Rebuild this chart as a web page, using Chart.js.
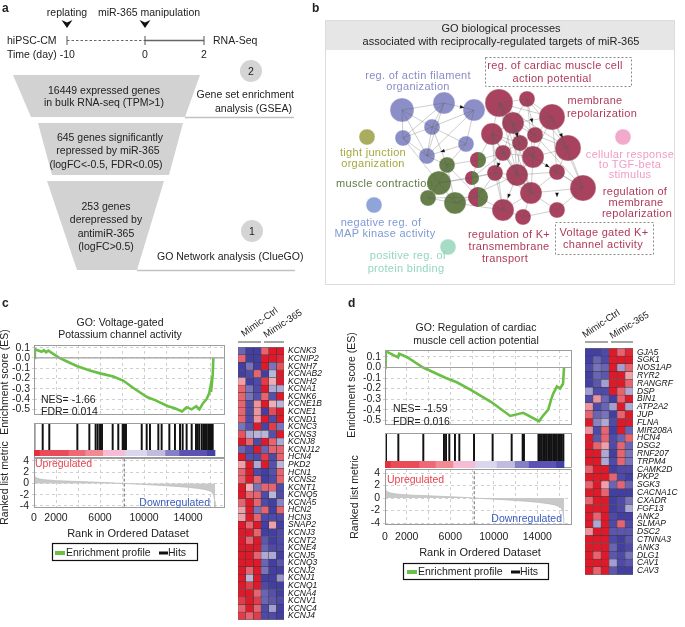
<!DOCTYPE html>
<html>
<head>
<meta charset="utf-8">
<script src="https://cdn.jsdelivr.net/npm/chart.js@4.4.1/dist/chart.umd.min.js"></script>
<style>
html, body { margin: 0; padding: 0; background: #fff; }
#fig { position: relative; width: 685px; height: 627px; overflow: hidden; }
#fig canvas { position: absolute; }
#ov { position: absolute; left: 0; top: 0; z-index: 5; }
</style>
</head>
<body>
<div id="fig">
<svg id="ov" width="685" height="627" xmlns="http://www.w3.org/2000/svg">
<g font-family="Liberation Sans, Arial, sans-serif" font-size="10.5" fill="#222">
  <!-- a -->
  <text x="2" y="12" font-weight="bold" font-size="12">a</text>
  <text x="67" y="16" text-anchor="middle">replating</text>
  <text x="149" y="16" text-anchor="middle">miR-365 manipulation</text>
  <path d="M61.5 20 L67 22.5 L72.5 20 L67 28 Z" fill="#111"/>
  <path d="M139.5 20 L145 22.5 L150.5 20 L145 28 Z" fill="#111"/>
  <text x="7" y="44">hiPSC-CM</text>
  <line x1="67" y1="36" x2="67" y2="45" stroke="#555"/>
  <line x1="67" y1="40.5" x2="145" y2="40.5" stroke="#666" stroke-dasharray="2.5,2"/>
  <line x1="145" y1="40.5" x2="204" y2="40.5" stroke="#666" stroke-width="1.3"/>
  <line x1="145" y1="36" x2="145" y2="45" stroke="#555"/>
  <line x1="204" y1="36" x2="204" y2="45" stroke="#555"/>
  <text x="213" y="44">RNA-Seq</text>
  <text x="7" y="58">Time (day) -10</text>
  <text x="145" y="58" text-anchor="middle">0</text>
  <text x="204" y="58" text-anchor="middle">2</text>
  <circle cx="251" cy="71" r="11" fill="#d4d4d4"/>
  <text x="251" y="75" text-anchor="middle">2</text>
  <path d="M13 75 L200 75 L185 117 L31 117 Z" fill="#d2d2d2"/>
  <line x1="185" y1="117.5" x2="294" y2="117.5" stroke="#c2c2c2" stroke-width="1.5"/>
  <text x="104" y="94" text-anchor="middle">16449 expressed genes</text>
  <text x="104" y="106" text-anchor="middle">in bulk RNA-seq (TPM&gt;1)</text>
  <text x="294" y="98" text-anchor="end">Gene set enrichment</text>
  <text x="292" y="112" text-anchor="end">analysis (GSEA)</text>
  <path d="M38 123 L183 123 L169 175 L52 175 Z" fill="#d2d2d2"/>
  <text x="110" y="141" text-anchor="middle">645 genes significantly</text>
  <text x="108" y="154" text-anchor="middle">repressed by miR-365</text>
  <text x="106" y="168" text-anchor="middle">(logFC&lt;-0.5, FDR&lt;0.05)</text>
  <path d="M47 181 L164 181 L137 270 L77 270 Z" fill="#d2d2d2"/>
  <text x="106" y="210" text-anchor="middle">253 genes</text>
  <text x="106" y="223" text-anchor="middle">derepressed by</text>
  <text x="106" y="237" text-anchor="middle">antimiR-365</text>
  <text x="106" y="250" text-anchor="middle">(logFC&gt;0.5)</text>
  <circle cx="252" cy="231" r="11" fill="#d4d4d4"/>
  <text x="252" y="235" text-anchor="middle">1</text>
  <text x="157" y="260">GO Network analysis (ClueGO)</text>
  <line x1="137" y1="270.5" x2="295" y2="270.5" stroke="#c2c2c2" stroke-width="1.5"/>

  <!-- b -->
  <text x="312" y="12" font-weight="bold" font-size="12">b</text>
  <rect x="325.5" y="20.5" width="349" height="264" fill="none" stroke="#dcdcdc"/>
  <rect x="326" y="21" width="348" height="29" fill="#e6e6e6"/>
  <text x="501" y="32" text-anchor="middle" font-size="11">GO biological processes</text>
  <text x="501" y="45" text-anchor="middle" font-size="11">associated with reciprocally-regulated targets of miR-365</text>
  <g font-size="11" letter-spacing="0.3">
    <text x="418" y="79" text-anchor="middle" fill="#8a8cc6">reg. of actin  filament</text>
    <text x="418" y="90" text-anchor="middle" fill="#8a8cc6">organization</text>
    <rect x="485.5" y="57.5" width="146" height="29" fill="none" stroke="#888" stroke-dasharray="2,2"/>
    <text x="555" y="69" text-anchor="middle" fill="#b03a5a">reg. of cardiac muscle cell</text>
    <text x="552" y="82" text-anchor="middle" fill="#b03a5a">action potential</text>
    <text x="595" y="104" text-anchor="middle" fill="#b03a5a">membrane</text>
    <text x="602" y="117" text-anchor="middle" fill="#b03a5a">repolarization</text>
    <text x="373" y="156" text-anchor="middle" fill="#a6a840">tight junction</text>
    <text x="373" y="167" text-anchor="middle" fill="#a6a840">organization</text>
    <text x="630" y="158" text-anchor="middle" fill="#f09cc4">cellular response</text>
    <text x="630" y="168" text-anchor="middle" fill="#f09cc4">to TGF-beta</text>
    <text x="630" y="178" text-anchor="middle" fill="#f09cc4">stimulus</text>
    <text x="336" y="187" fill="#5d7b43">muscle contraction</text>
    <text x="635" y="195" text-anchor="middle" fill="#b03a5a">regulation of</text>
    <text x="636" y="206" text-anchor="middle" fill="#b03a5a">membrane</text>
    <text x="637" y="217" text-anchor="middle" fill="#b03a5a">repolarization</text>
    <text x="381" y="226" text-anchor="middle" fill="#7f99d6">negative reg. of</text>
    <text x="385" y="237" text-anchor="middle" fill="#7f99d6">MAP kinase activity</text>
    <text x="509" y="238" text-anchor="middle" fill="#b03a5a">regulation of K+</text>
    <text x="509" y="250" text-anchor="middle" fill="#b03a5a">transmembrane</text>
    <text x="505" y="262" text-anchor="middle" fill="#b03a5a">transport</text>
    <rect x="555.5" y="222.5" width="98" height="32" fill="none" stroke="#888" stroke-dasharray="2,2"/>
    <text x="604" y="236" text-anchor="middle" fill="#b03a5a">Voltage gated K+</text>
    <text x="603" y="248" text-anchor="middle" fill="#b03a5a">channel activity</text>
    <text x="408" y="259" text-anchor="middle" fill="#94d6c0">positive reg. of</text>
    <text x="406" y="272" text-anchor="middle" fill="#94d6c0">protein binding</text>
  </g>

  <!-- c -->
  <text x="2" y="307" font-weight="bold" font-size="12">c</text>
  <text x="120" y="326" text-anchor="middle">GO: Voltage-gated</text>
  <text x="120" y="338" text-anchor="middle">Potassium channel activity</text>
  <text transform="translate(8,382) rotate(-90)" text-anchor="middle">Enrichment score (ES)</text>
  <text transform="translate(8,483) rotate(-90)" text-anchor="middle">Ranked list metric</text>
  <text x="41" y="403">NES= -1.66</text>
  <text x="41" y="415">FDR= 0.014</text>
  <text x="35" y="467" fill="#e8424f">Upregulated</text>
  <text x="210" y="506" text-anchor="end" fill="#3a5bbf">Downregulated</text>
  <text x="128" y="537" text-anchor="middle" font-size="11">Rank in Ordered Dataset</text>
  <rect x="52.5" y="543.5" width="145" height="17" fill="#fff" stroke="#111" stroke-width="1.2"/>
  <rect x="55" y="551" width="10" height="4" fill="#6abf45"/>
  <text x="66" y="556">Enrichment profile</text>
  <rect x="159" y="551.5" width="9" height="3" fill="#111"/>
  <text x="168" y="556">Hits</text>
  <g font-size="9.5">
    <text transform="translate(244,337) rotate(-36)">Mimic-Ctrl</text>
    <text transform="translate(266,338) rotate(-33)">Mimic-365</text>
  </g>
  <line x1="238" y1="342" x2="261" y2="342" stroke="#888" stroke-width="1.5"/>
  <line x1="264" y1="342" x2="284" y2="342" stroke="#888" stroke-width="1.5"/>

  <!-- d -->
  <text x="348" y="307" font-weight="bold" font-size="12">d</text>
  <text x="476" y="331" text-anchor="middle">GO: Regulation of cardiac</text>
  <text x="476" y="344" text-anchor="middle">muscle cell action potential</text>
  <text transform="translate(355,385) rotate(-90)" text-anchor="middle">Enrichment score (ES)</text>
  <text transform="translate(358,497) rotate(-90)" text-anchor="middle">Ranked list metric</text>
  <text x="393" y="412">NES= -1.59</text>
  <text x="393" y="425">FDR= 0.016</text>
  <text x="387" y="483" fill="#e8424f">Upregulated</text>
  <text x="562" y="522" text-anchor="end" fill="#3a5bbf">Downregulated</text>
  <text x="480" y="556" text-anchor="middle" font-size="11">Rank in Ordered Dataset</text>
  <rect x="403.5" y="563.5" width="145" height="16" fill="#fff" stroke="#111" stroke-width="1.2"/>
  <rect x="407" y="570" width="10" height="4" fill="#6abf45"/>
  <text x="418" y="575">Enrichment profile</text>
  <rect x="511" y="570.5" width="9" height="3" fill="#111"/>
  <text x="520" y="575">Hits</text>
  <g font-size="9.5">
    <text transform="translate(585,338) rotate(-34)">Mimic-Ctrl</text>
    <text transform="translate(612,339) rotate(-31)">Mimic-365</text>
  </g>
  <line x1="585" y1="342" x2="608" y2="342" stroke="#888" stroke-width="1.5"/>
  <line x1="611" y1="342" x2="633" y2="342" stroke="#888" stroke-width="1.5"/>
</g>
</svg>
</div>
<script>
'use strict';

// ---------- GSEA data ----------
const totalGenes = 16449;
const esTicks = [0.1, 0.0, -0.1, -0.2, -0.3, -0.4, -0.5];
const rankTicks = [0, 2000, 4000, 6000, 8000, 10000, 12000, 14000, 16000];
const rankLabels = [0, 2000, 6000, 10000, 14000];
const metricTicks = [4, 2, 0, -2, -4];

// running enrichment score, panel c
const esRankC = [0, 80, 700, 900, 1100, 1300, 2300, 3000, 3940, 5000, 6000, 7200, 8100, 9000, 10270, 11000,
                 12180, 12800, 13450, 13870, 14330, 14750, 15030, 15360, 15690, 15930, 16050, 16090, 16240, 16300];
const esValC = [0, 0.085, 0.06, 0.075, 0.055, 0.072, 0.0, -0.035, -0.08, -0.12, -0.15, -0.18, -0.22, -0.29, -0.38, -0.41,
                -0.47, -0.49, -0.52, -0.48, -0.5, -0.47, -0.5, -0.44, -0.4, -0.34, -0.27, -0.33, -0.17, 0.0];
// running enrichment score, panel d
const esRankD = [0, 60, 1200, 1300, 2000, 3500, 5400, 5600, 6600, 8000, 9800, 11500, 12700, 14150, 14500, 15000,
                 15250, 15450, 15800, 16080, 16360, 16449];
const esValD = [0, 0.155, 0.095, 0.13, 0.1, 0.0, -0.09, -0.1, -0.14, -0.22, -0.33, -0.46, -0.43, -0.51, -0.46, -0.40,
                -0.31, -0.25, -0.18, -0.2, -0.155, 0.0];

// hit positions (rank of each gene of the set)
const hitsC = [30, 790, 1390, 3940, 5030, 5600, 5790, 6000, 6180, 7150, 7660, 8060, 8180, 8360, 9790, 10240, 10540,
               11300, 11600, 12300, 12810, 13270, 13510, 13870, 14330, 14720, 14870, 15020, 15240, 15390, 15540,
               15690, 15840, 15990, 16090, 16240];
const hitsD = [92, 1225, 3520, 5420, 5610, 5910, 6430, 6830, 8180, 9890, 11640, 12650, 12770, 14100, 14240, 14400,
               14550, 14700, 14860, 15010, 15160, 15320, 15470, 15620, 15780, 15930, 16080, 16240, 16390];

// ranked list metric (shared ranked dataset)
const rankedX = [0, 60, 200, 500, 1000, 2000, 3000, 4000, 5000, 6000, 7000, 8200, 9000, 10000, 11000, 12000,
                 13000, 14000, 15000, 15600, 16000, 16200, 16350, 16420, 16449];
const rankedY = [1.6, 1.3, 1.0, 0.8, 0.65, 0.5, 0.42, 0.35, 0.28, 0.2, 0.12, 0.0, -0.08, -0.18, -0.28, -0.4,
                 -0.52, -0.68, -0.9, -1.1, -1.35, -1.6, -2.2, -3.2, -4.2];
const zeroCross = 8200;

// colour bar along the ranked list
const cbBounds = [0, 480, 3120, 4630, 6240, 8270, 10240, 11900, 13180, 15700, 16449];
const cbColors = ['#e3303d', '#e94b58', '#ee6878', '#f28a94', '#f5bdd5', '#dad6ee', '#c3bbdf', '#8381c3', '#5b52b3', '#4242a4'];

// ---------- heatmaps (z-scores: Mimic-Ctrl x3, Mimic-365 x3) ----------
const genesC = ['KCNK3', 'KCNIP2', 'KCNH7', 'KCNAB2', 'KCNH2', 'KCNA1', 'KCNK6', 'KCNE1B', 'KCNE1', 'KCND1',
                'KCNC3', 'KCNS3', 'KCNJ8', 'KCNJ12', 'HCN4', 'PKD2', 'HCN1', 'KCNS2', 'KCNT1', 'KCNQ5',
                'KCNA5', 'HCN2', 'HCN3', 'SNAP2', 'KCNJ3', 'KCNT2', 'KCNE4', 'KCNJ5', 'KCNQ3', 'KCNJ2',
                'KCNJ1', 'KCNQ1', 'KCNA4', 'KCNV1', 'KCNC4', 'KCNJ4'];
const heatC = [
  [-1.2, -1.8, -1.8, 1, 2, 2], [1, -1.8, -1.8, 2, 2, 1.8], [-1.8, -1, -1.8, 2, -1, 1.2],
  [-1.8, -1.6, 1, -1.8, -0.3, 2], [0.4, -1.8, -1.6, 1.5, 0.3, 2], [1, -1, -1.6, 2, -0.4, -0.4],
  [1, -1, -1.5, 1, -1.5, 2], [1, -1.6, 0.5, 2, 0.3, -0.3], [1, -1.6, 0.5, -1.8, 1.3, 2],
  [1, -1.6, 0.5, 2, -1.6, 2], [-1, -1.5, 2, -1.7, 1.5, -1], [1.2, -0.4, -0.3, -0.3, -1.5, 2],
  [2, 1, -1.6, 2, 1, -0.4], [-1.2, -1.6, 2, -1.2, 1, 1], [2, -1.5, -1.6, 1.5, -1.6, 1],
  [0.4, 2, -0.4, 2, -1.5, -0.3], [1, 2, -1.6, -1.8, -1.5, 1], [1, 2, 1, -1.8, -1.6, 1],
  [2, 0.3, -1, 1, 1, -1.6], [2, 1, 1, -1.6, -0.3, -1.6], [1, 2, 1, -1.6, -1.8, -0.8],
  [0.4, 2, -1, 1, -1.8, 1], [0.4, 2, 1, -1.6, -1.6, -1.6], [2, 1, 2, -1.8, 0.4, -1.8],
  [2, 2, 1, -1.8, -1.8, -1.6], [2, 1, 2, -1.4, -1.8, -1.6], [2, 2, 2, -1.2, -1.6, -1.6],
  [2, 2, 1, -0.4, -0.4, -1.8], [2, 2, 2, -1.2, -1.8, -1.4], [2, 1, 2, -1, -1.8, -1.8],
  [2, -0.3, 2, -1.8, -1.8, -0.6], [2, 1.5, 2, -1.6, -1.8, -1.8], [2, 2, 1, -1.2, -1.5, -1.8],
  [1.5, 2, 1.5, -1.2, -1.4, -1.6], [1, 2, 1, -1.6, -0.5, -1.8], [1.5, 1, 1.5, -1.6, -1.6, -1.8]
];
const genesD = ['GJA5', 'SGK1', 'NOS1AP', 'RYR2', 'RANGRF', 'DSP', 'BIN1', 'ATP2A2', 'JUP', 'FLNA', 'MIR208A',
                'HCN4', 'DSG2', 'RNF207', 'TRPM4', 'CAMK2D', 'PKP2', 'SGK3', 'CACNA1C', 'CXADR', 'FGF13',
                'ANK2', 'SLMAP', 'DSC2', 'CTNNA3', 'ANK3', 'DLG1', 'CAV1', 'CAV3'];
const heatD = [
  [-1.8, -1.8, -1.6, 2, 1, 1.8], [-1.8, -1.2, -1.6, 2, 2, 2], [-1.6, -1, -1.2, 2, -0.5, 1],
  [-1.8, -1.2, -1.4, 2, 2, 0.4], [-1.8, -1.4, -0.5, 2, 2, 1], [-0.5, -1.6, -1.6, 2, 1, -0.4],
  [-1.6, 0.5, -1.2, -1.8, 1, 2], [0.5, -1.6, -1.2, -0.5, 2, -0.4], [1, -1.2, -1, -1.8, 1, 2],
  [2, -0.8, -0.4, -1.6, 2, 2], [0.5, -1.6, 1, -1.8, 2, -1.2], [2, -1.4, 1, -1.6, -1.2, 1],
  [2, 1, 0.4, -1.6, 1, -1.2], [2, 2, -0.4, -1.8, 1, -1], [2, 2, -0.4, -1.6, 1, -1],
  [1, 2, 2, -1.8, -1.6, -1.6], [2, 2, 2, 1, -1.6, -1.8], [1, 2, 0.4, -1.2, 1, -1.2],
  [2, 2, 1, -1.8, -1.8, -1.8], [1, 2, 2, -1.8, -1.6, -1], [2, 2, 2, -1.8, -1.6, -0.4],
  [2, 1, 2, -1.6, -1.8, -1.8], [2, -0.4, 2, -1.6, 1, -1.6], [0.5, 2, 2, -1.4, -1.4, -1.4],
  [2, 2, 2, -1.6, -1.8, -1.4], [2, 2, 2, -1.2, -1.8, -1.6], [2, 1, 2, -1.4, -1.6, -1],
  [2, 2, 2, -0.5, -1.6, -1.4], [2, 1, 2, -1.4, -1.8, -1.8]
];

// ---------- GO network (layout coordinates, node size, cluster) ----------
const nodeX = [77, 119, 149, 107, 78, 141, 102, 42, 298, 49, 123, 122, 114, 103, 130, 153, 147, 153,
               174, 202, 227, 167, 188, 195, 210, 178, 208, 243, 192, 170, 232, 206, 258, 178, 198, 232];
const nodeY = [60, 53, 60, 77, 88, 94, 106, 87, 87, 155, 197, 115, 133, 148, 153, 110, 128, 147,
               53, 49, 67, 84, 73, 93, 85, 103, 107, 98, 125, 123, 122, 143, 138, 160, 167, 160];
const nodeR = [12, 11, 11, 8, 8, 8, 8, 8, 8, 8, 8, 8, 12, 8, 11, 8, 7, 10,
               14, 8, 13, 11, 11, 8, 8, 8, 11, 13, 11, 8, 8, 11, 13, 11, 8, 8];
const nodeGroup = ['actin', 'actin', 'actin', 'actin', 'actin', 'actin', 'actin', 'tight', 'tgf', 'mapk', 'protein',
                   'muscle', 'muscle', 'muscle', 'muscle', 'mix', 'mix', 'mix',
                   'cardiac', 'cardiac', 'cardiac', 'cardiac', 'cardiac', 'cardiac', 'cardiac', 'cardiac', 'cardiac',
                   'cardiac', 'cardiac', 'cardiac', 'cardiac', 'cardiac', 'cardiac', 'cardiac', 'cardiac', 'cardiac'];
const groupColor = { actin: '#8c8ec7', tight: '#aaac5e', tgf: '#f2a9cb', mapk: '#8fa5da', protein: '#a6dcc6',
                     muscle: '#657e4a', cardiac: '#a8425e' };
const edges = [
  [0, 1], [0, 3], [0, 4], [1, 2], [1, 3], [1, 4], [2, 3], [2, 5], [2, 6], [3, 4], [3, 5], [3, 6], [4, 6], [5, 6], [0, 6], [1, 6],
  [6, 11], [5, 11], [4, 12], [3, 11], [11, 12], [12, 13], [12, 14], [13, 14], [11, 14], [11, 15], [12, 16], [14, 17], [13, 17], [11, 17],
  [15, 21], [15, 25], [16, 25], [16, 29], [17, 29], [17, 33], [15, 16], [16, 17], [14, 28], [14, 33], [12, 29],
  [18, 19], [18, 20], [18, 21], [18, 22], [18, 23], [18, 24], [18, 26], [18, 27], [19, 20], [19, 22], [19, 24], [19, 26],
  [20, 22], [20, 24], [20, 26], [20, 27], [20, 30], [21, 22], [21, 23], [21, 25], [21, 26], [21, 28], [21, 29],
  [22, 23], [22, 24], [22, 25], [22, 26], [22, 28], [23, 24], [23, 25], [23, 26], [23, 28], [24, 26], [24, 27],
  [25, 26], [25, 28], [25, 29], [26, 27], [26, 28], [26, 30], [26, 31], [27, 30], [27, 32], [28, 29], [28, 30],
  [28, 31], [28, 33], [29, 31], [29, 33], [30, 31], [30, 32], [31, 32], [31, 33], [31, 34], [32, 35], [33, 34],
  [34, 35], [31, 35], [26, 32], [20, 32], [21, 31], [22, 31], [18, 28], [19, 27], [18, 31], [24, 32], [21, 33]
];
const arrowEdges = [[1, 2], [5, 6], [19, 24], [20, 27], [25, 29], [28, 33], [30, 35], [26, 30], [22, 23]];

// ---------- layout ----------
const panelC = { left: 0, axisW: 34, areaW: 191, xmax: 17358, esTop: 345, esBottom: 423, esMin: -0.552, esMax: 0.126,
  hitTop: 423, hitH: 35, cbTop: 450, cbH: 6, rkTop: 458, rkBottom: 508, rkMin: -4.36, rkMax: 4.53, rkAxisH: 22, rkPad: 4 };
const panelD = { left: 351, axisW: 34, areaW: 187, xmax: 17184, esTop: 350, esBottom: 433, esMin: -0.543, esMax: 0.166,
  hitTop: 433, hitH: 35, cbTop: 461, cbH: 7, rkTop: 469, rkBottom: 525, rkMin: -4.32, rkMax: 4.64, rkAxisH: 24, rkPad: 6 };

Chart.defaults.font.family = '"Liberation Sans", Arial, sans-serif';
Chart.defaults.font.size = 10.5;
Chart.defaults.color = '#222';
Chart.defaults.animation = false;
Chart.defaults.responsive = false;
Chart.defaults.layout.autoPadding = false;
Chart.defaults.plugins.legend.display = false;
Chart.defaults.plugins.tooltip.enabled = false;

const fig = document.getElementById('fig');

function mk(x, y, w, h) {
    let c = document.createElement('canvas');
    c.width = w;
    c.height = h;
    c.style.left = x + 'px';
    c.style.top = y + 'px';
    fig.appendChild(c);
    return c;
}

function pts(xs, ys) {
    return xs.map(function (x, i) { return {x: x, y: ys[i]}; });
}

// grey box round the plotting area
const frame = {
    id: 'frame',
    afterDatasetsDraw(chart) {
        let a = chart.chartArea, ctx = chart.ctx;
        ctx.save();
        ctx.strokeStyle = '#9c9c9c';
        ctx.lineWidth = 1;
        ctx.strokeRect(Math.round(a.left) + 0.5, Math.round(a.top) + 0.5,
            Math.round(a.right - a.left) - 1, Math.round(a.bottom - a.top) - 1);
        ctx.restore();
    }
};

const gridDash = {display: false, dash: [3, 3]};

function gsea(P, esRanks, esVals, hits) {
    let fullW = P.axisW + P.areaW + 3;

    // enrichment score
    new Chart(mk(P.left, P.esTop - 10, fullW, P.esBottom - P.esTop + 10), {
        type: 'line',
        data: {
            datasets: [
                {data: [{x: 0, y: 0}, {x: P.xmax, y: 0}], borderColor: '#a0a0a0', borderWidth: 1.2, pointRadius: 0},
                {data: pts(esRanks, esVals), borderColor: '#6abf45', borderWidth: 2.6, pointRadius: 0, tension: 0}
            ]
        },
        options: {
            layout: {padding: {top: 10, right: 3}},
            scales: {
                x: {
                    type: 'linear', min: 0, max: P.xmax,
                    ticks: {display: false},
                    grid: {color: '#d0d0d0', drawTicks: false, borderDash: [3, 3]},
                    border: gridDash,
                    afterBuildTicks: function (s) { s.ticks = rankTicks.map(function (v) { return {value: v}; }); },
                    afterFit: function (s) { s.height = 0; }
                },
                y: {
                    min: P.esMin, max: P.esMax,
                    ticks: {padding: 2, autoSkip: false, callback: function (v) { return v.toFixed(1); }},
                    grid: {color: '#d0d0d0', tickLength: 2, borderDash: [3, 3]},
                    border: gridDash,
                    afterBuildTicks: function (s) { s.ticks = esTicks.map(function (v) { return {value: v}; }); },
                    afterFit: function (s) { s.width = P.axisW; }
                }
            }
        },
        plugins: [frame]
    });

    // hits
    new Chart(mk(P.left + P.axisW, P.hitTop, P.areaW, P.hitH), {
        type: 'bar',
        data: {
            datasets: [{
                data: hits.map(function (r) { return {x: r, y: [0.2, 1]}; }),
                backgroundColor: '#111', barThickness: 1.3
            }]
        },
        options: {
            scales: {
                x: {type: 'linear', min: 0, max: P.xmax, offset: false, display: false},
                y: {min: 0, max: 1, display: false}
            }
        },
        plugins: [frame]
    });

    // colour bar
    new Chart(mk(P.left + P.axisW, P.cbTop, P.areaW, P.cbH), {
        type: 'bar',
        data: {
            labels: ['rank'],
            datasets: cbColors.map(function (c, i) {
                return {data: [[cbBounds[i], cbBounds[i + 1]]], backgroundColor: c,
                        barPercentage: 1, categoryPercentage: 1, grouped: false};
            })
        },
        options: {
            indexAxis: 'y',
            scales: {
                x: {type: 'linear', min: 0, max: P.xmax, offset: false, display: false},
                y: {display: false}
            }
        }
    });

    // ranked list metric
    new Chart(mk(P.left, P.rkTop - 10, fullW, P.rkBottom - P.rkTop + 10 + P.rkAxisH), {
        type: 'line',
        data: {
            datasets: [
                {data: pts(rankedX, rankedY), fill: 'origin', backgroundColor: '#c9c9c9',
                 borderColor: '#bdbdbd', borderWidth: 0.8, pointRadius: 0},
                {data: [{x: zeroCross, y: -5}, {x: zeroCross, y: 5}], borderColor: '#666',
                 borderWidth: 1, borderDash: [3, 2], pointRadius: 0}
            ]
        },
        options: {
            layout: {padding: {top: 10, right: 3}},
            scales: {
                x: {
                    type: 'linear', min: 0, max: P.xmax,
                    ticks: {padding: P.rkPad, autoSkip: false, maxRotation: 0,
                            callback: function (v) { return rankLabels.includes(v) ? String(v) : ''; }},
                    grid: {color: '#d0d0d0', drawTicks: false, borderDash: [3, 3]},
                    border: gridDash,
                    afterBuildTicks: function (s) { s.ticks = rankTicks.map(function (v) { return {value: v}; }); },
                    afterFit: function (s) { s.height = P.rkAxisH; }
                },
                y: {
                    min: P.rkMin, max: P.rkMax,
                    ticks: {padding: 3, autoSkip: false},
                    grid: {color: '#d0d0d0', tickLength: 2, borderDash: [3, 3]},
                    border: gridDash,
                    afterBuildTicks: function (s) { s.ticks = metricTicks.map(function (v) { return {value: v}; }); },
                    afterFit: function (s) { s.width = P.axisW; }
                }
            }
        },
        plugins: [frame]
    });
}

function heatColor(v) {
    let t = Math.pow(Math.min(Math.abs(v) / 2, 1), 0.6);
    let w = [246, 242, 248];
    let e = v < 0 ? [55, 50, 155] : [222, 26, 42];
    let c = w.map(function (wc, i) { return Math.round(wc + (e[i] - wc) * t); });
    return 'rgb(' + c.join(',') + ')';
}

function heatmap(x, top, cellsW, rowsH, genes, vals) {
    let w = cellsW + 60;
    new Chart(mk(x, top - 8, w, rowsH + 16), {
        type: 'bar',
        data: {
            labels: genes,
            datasets: [0, 1, 2, 3, 4, 5].map(function (j) {
                return {
                    data: genes.map(function () { return 1; }),
                    backgroundColor: vals.map(function (r) { return heatColor(r[j]); }),
                    borderColor: '#3c3c3c', borderWidth: 0.5, borderSkipped: false,
                    barPercentage: 1, categoryPercentage: 1
                };
            })
        },
        options: {
            indexAxis: 'y',
            layout: {padding: {top: 8, bottom: 8}},
            scales: {
                x: {stacked: true, min: 0, max: 6, display: false},
                y: {
                    stacked: true, position: 'right',
                    grid: {display: false, drawTicks: false},
                    border: {display: false},
                    ticks: {autoSkip: false, padding: 4, color: '#111',
                            font: {style: 'italic', size: 8.5, lineHeight: 1}},
                    afterFit: function (s) { s.width = w - cellsW; }
                }
            }
        }
    });
}

function halfNode(r) {
    let c = document.createElement('canvas');
    let s = Math.ceil(2 * r + 2);
    c.width = c.height = s;
    let g = c.getContext('2d'), m = s / 2;
    g.fillStyle = groupColor.cardiac;
    g.beginPath(); g.moveTo(m, m); g.arc(m, m, r, Math.PI / 2, Math.PI * 1.5); g.fill();
    g.fillStyle = groupColor.muscle;
    g.beginPath(); g.moveTo(m, m); g.arc(m, m, r, -Math.PI / 2, Math.PI / 2); g.fill();
    return c;
}

const edgePlugin = {
    id: 'edges',
    afterDatasetsDraw(chart) {
        let ctx = chart.ctx, sx = chart.scales.x, sy = chart.scales.y;
        function px(i) { return [sx.getPixelForValue(nodeX[i]), sy.getPixelForValue(nodeY[i])]; }
        ctx.save();
        ctx.strokeStyle = 'rgba(90,90,90,0.5)';
        ctx.lineWidth = 0.6;
        ctx.beginPath();
        edges.forEach(function (e) {
            let a = px(e[0]), b = px(e[1]);
            ctx.moveTo(a[0], a[1]);
            ctx.lineTo(b[0], b[1]);
        });
        ctx.stroke();
        ctx.fillStyle = '#111';
        arrowEdges.forEach(function (e) {
            let a = px(e[0]), b = px(e[1]);
            let ang = Math.atan2(b[1] - a[1], b[0] - a[0]);
            let mx = a[0] + (b[0] - a[0]) * 0.6, my = a[1] + (b[1] - a[1]) * 0.6;
            ctx.save();
            ctx.translate(mx, my);
            ctx.rotate(ang);
            ctx.beginPath(); ctx.moveTo(2.5, 0); ctx.lineTo(-2, -1.8); ctx.lineTo(-2, 1.8); ctx.closePath(); ctx.fill();
            ctx.restore();
        });
        ctx.restore();
    }
};

// ---------- draw ----------
new Chart(mk(325, 50, 350, 234), {
    type: 'bubble',
    data: {
        datasets: [{
            data: nodeX.map(function (x, i) { return {x: x, y: nodeY[i], r: nodeR[i]}; }),
            backgroundColor: nodeGroup.map(function (g) { return groupColor[g] || groupColor.cardiac; }),
            borderColor: 'rgba(255,255,255,0.6)', borderWidth: 0.6,
            pointStyle: nodeGroup.map(function (g, i) { return g === 'mix' ? halfNode(nodeR[i]) : 'circle'; })
        }]
    },
    options: {
        layout: {padding: 0},
        scales: {
            x: {min: 0, max: 350, display: false},
            y: {min: 0, max: 234, reverse: true, display: false}
        }
    },
    plugins: [edgePlugin]
});

gsea(panelC, esRankC, esValC, hitsC);
gsea(panelD, esRankD, esValD, hitsD);
heatmap(238, 347, 46, 273, genesC, heatC);
heatmap(585, 348, 48, 227, genesD, heatD);
</script>
</body>
</html>
